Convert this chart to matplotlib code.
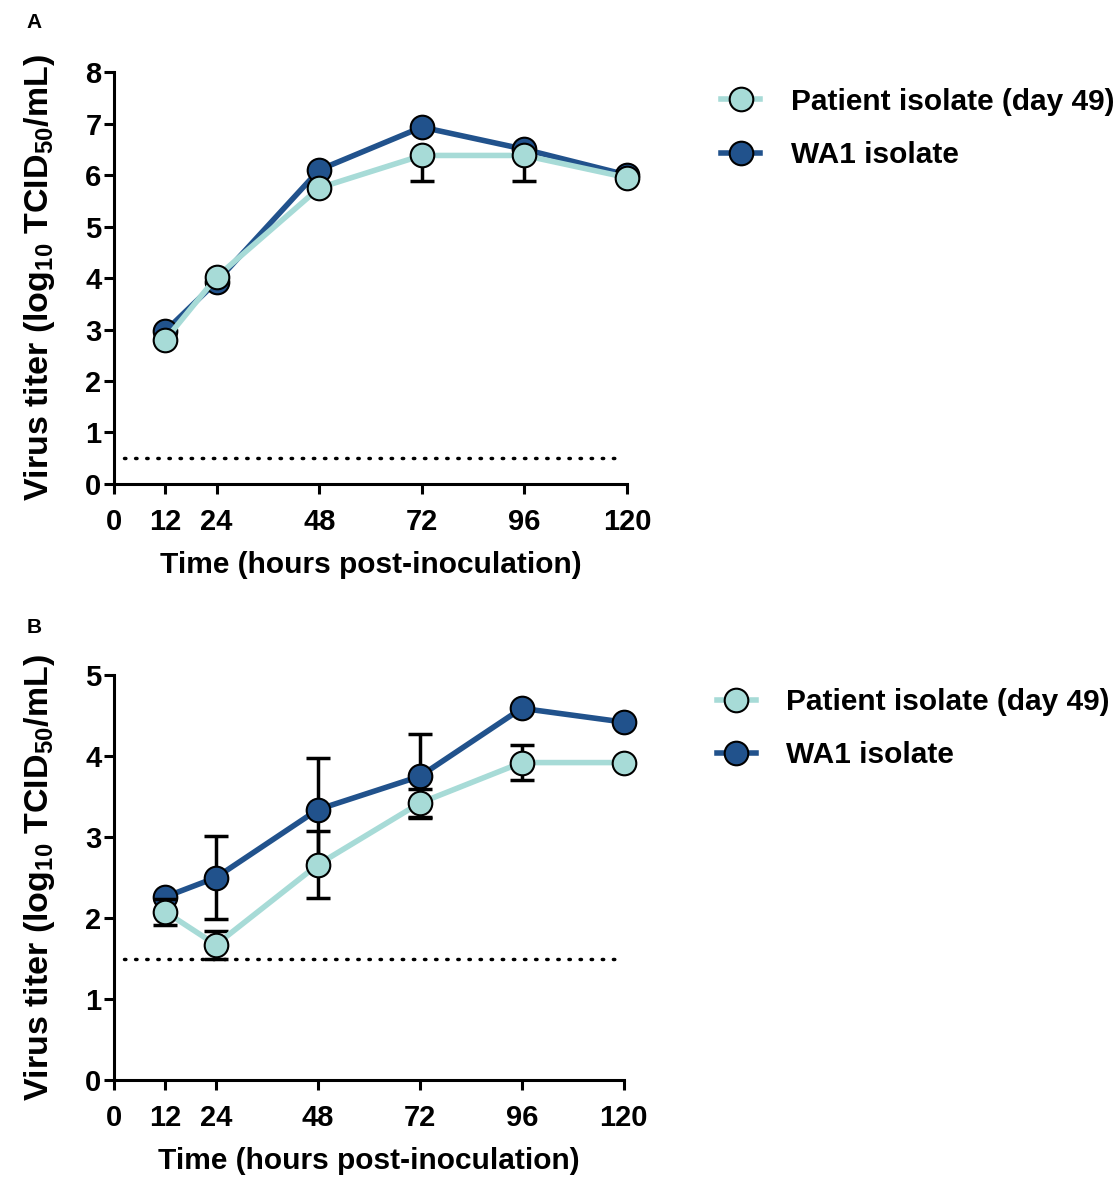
import numpy as np
import matplotlib
matplotlib.use('Agg')
import matplotlib.pyplot as plt

plt.rcParams['font.family'] = ['Liberation Sans', 'DejaVu Sans']
plt.rcParams['font.weight'] = 'bold'
plt.rcParams['mathtext.fontset'] = 'custom'
plt.rcParams['mathtext.rm'] = 'Liberation Sans:bold'
plt.rcParams['mathtext.bf'] = 'Liberation Sans:bold'

# --- data ---
hours = [12, 24, 48, 72, 96, 120]
x_ticks = [0, 12, 24, 48, 72, 96, 120]

# panel A
a_patient = [2.80, 4.02, 5.75, 6.38, 6.38, 5.95]
a_patient_err = [0.0, 0.0, 0.0, 0.49, 0.49, 0.0]   # shown below only
a_wa1 = [2.97, 3.93, 6.10, 6.93, 6.50, 6.00]
a_wa1_err = [0.0, 0.0, 0.0, 0.0, 0.0, 0.0]
a_lod = 0.5

# panel B
b_patient = [2.08, 1.67, 2.66, 3.42, 3.92, 3.92]
b_patient_err = [0.16, 0.17, 0.41, 0.17, 0.22, 0.0]
b_wa1 = [2.26, 2.50, 3.34, 3.75, 4.59, 4.42]
b_wa1_err = [0.0, 0.51, 0.64, 0.52, 0.0, 0.0]
b_lod = 1.5

labels = ['Patient isolate (day 49)', 'WA1 isolate']
C_PAT = '#a7dbd7'
C_WA1 = '#21528c'


def draw_panel(ax, patient, p_err, wa1, w_err, lod, ymax, below_only):
    # limit of detection
    ax.plot([2.3, 119], [lod, lod], color='black', lw=2.5,
            linestyle=(0, (0.4, 2.8)), dash_capstyle='round', zorder=1)
    for y, e, col, lab, z in [(wa1, w_err, C_WA1, labels[1], 3),
                              (patient, p_err, C_PAT, labels[0], 4)]:
        e = np.array(e)
        yerr = [e, np.zeros_like(e)] if below_only else [e, e]
        mask = e > 0
        if mask.any():
            ax.errorbar(np.array(hours)[mask], np.array(y)[mask],
                        yerr=[yerr[0][mask], yerr[1][mask]], fmt='none',
                        ecolor='black', elinewidth=2.5, capsize=8.5,
                        capthick=2.5, zorder=z - 0.5)
        ax.plot(hours, y, color=col, lw=4, marker='o', markersize=17,
                markerfacecolor=col, markeredgecolor='black',
                markeredgewidth=1.5, label=lab, zorder=z, clip_on=False)
    ax.set_xlim(0, 120)
    ax.set_ylim(0, ymax)
    ax.set_xticks(x_ticks)
    ax.set_yticks(range(0, ymax + 1))
    for s in ['top', 'right']:
        ax.spines[s].set_visible(False)
    for s in ['left', 'bottom']:
        ax.spines[s].set_linewidth(2.2)
        ax.spines[s].set_zorder(5)
    ax.tick_params(width=2.2, length=7, labelsize=21, direction='out')
    ax.tick_params(axis='x', pad=10)
    ax.tick_params(axis='y', pad=2)
    ax.set_xlabel('Time (hours post-inoculation)', fontsize=21.5,
                  fontweight='bold', labelpad=11)
    ax.set_ylabel(r'Virus titer (log$_{\mathrm{10}}$ TCID$_{\mathrm{50}}$/mL)',
                  fontsize=24.5, fontweight='bold', labelpad=20)
    for lab in ax.get_xticklabels() + ax.get_yticklabels():
        lab.set_fontweight('bold')


fig = plt.figure(figsize=(11.2, 11.77), dpi=100)
ax_a = fig.add_axes([0.1018, 0.5888, 0.458, 0.350])
ax_b = fig.add_axes([0.1018, 0.0824, 0.455, 0.344])

draw_panel(ax_a, a_patient, a_patient_err, a_wa1, a_wa1_err, a_lod, 8, True)
draw_panel(ax_b, b_patient, b_patient_err, b_wa1, b_wa1_err, b_lod, 5, False)

for ax, anchor in [(ax_a, (0.644, 0.9255)), (ax_b, (0.640, 0.4155))]:
    h, l = ax.get_legend_handles_labels()
    fig.legend(h[::-1], l[::-1], loc='upper left', bbox_to_anchor=anchor,
               frameon=False, handlelength=1.3,
               handletextpad=1.02, labelspacing=0.85, borderpad=0,
               borderaxespad=0, prop={'weight': 'bold', 'size': 21.5})

fig.text(0.024, 0.981, 'A', fontsize=15, fontweight='bold', va='center')
fig.text(0.024, 0.467, 'B', fontsize=15, fontweight='bold', va='center')

fig.savefig('out.png', dpi=100)
